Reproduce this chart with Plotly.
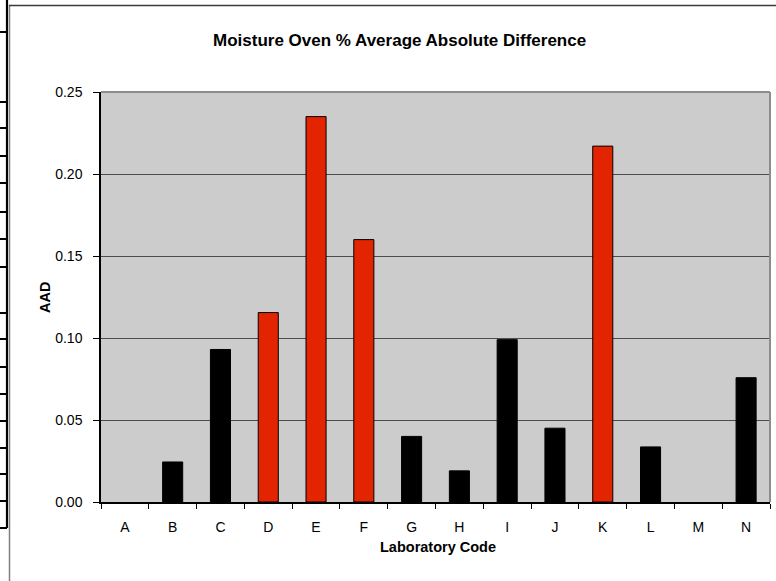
import plotly.graph_objects as go

labs = ["A", "B", "C", "D", "E", "F", "G", "H", "I", "J", "K", "L", "M", "N"]
aad = [0.0, 0.0244, 0.093, 0.1155, 0.235, 0.160, 0.040, 0.019, 0.099, 0.045, 0.217, 0.0336, 0.0, 0.0758]
flagged = [False, False, False, True, True, True, False, False, False, False, True, False, False, False]
y_ticks = [0.0, 0.05, 0.10, 0.15, 0.20, 0.25]
y_ticktext = ["0.00", "0.05", "0.10", "0.15", "0.20", "0.25"]

RED = "#e32400"
colors = [RED if f else "#000000" for f in flagged]
line_w = [1 if v > 0 else 0 for v in aad]

W, H = 776, 581
L, R, T, B = 101, 770, 92, 502

def px(x):
    return (x - L) / (R - L)

def py(y):
    return (B - y) / (B - T)

fig = go.Figure(go.Bar(
    x=labs, y=aad, marker=dict(color=colors, line=dict(color="#000000", width=line_w)),
    width=0.42, hoverinfo="x+y"))

shapes = []
# spreadsheet artifacts at the left edge
shapes.append(dict(type="line", xref="paper", yref="paper", x0=px(7), x1=px(7), y0=py(0), y1=py(528),
                   line=dict(color="#000000", width=2.2)))
for ty in [32, 102, 128, 156, 183, 212, 239, 267, 313, 339, 367, 394, 421, 448, 474, 501, 528]:
    shapes.append(dict(type="line", xref="paper", yref="paper", x0=px(0), x1=px(7), y0=py(ty), y1=py(ty),
                       line=dict(color="#000000", width=2)))
# chart border
shapes.append(dict(type="line", xref="paper", yref="paper", x0=px(9.5), x1=px(9.5), y0=py(5), y1=py(581),
                   line=dict(color="#808080", width=1.5)))
shapes.append(dict(type="line", xref="paper", yref="paper", x0=px(9), x1=px(776), y0=py(5.5), y1=py(5.5),
                   line=dict(color="#3a3a3a", width=1.5)))
# plot area top/right border
shapes.append(dict(type="line", xref="paper", yref="paper", x0=0, x1=1, y0=1, y1=1,
                   line=dict(color="#8c8c8c", width=2)))
shapes.append(dict(type="line", xref="paper", yref="paper", x0=1, x1=1, y0=0, y1=1,
                   line=dict(color="#8c8c8c", width=2)))

fig.update_layout(
    width=W, height=H,
    margin=dict(l=L, r=W - R, t=T, b=H - B),
    paper_bgcolor="#ffffff", plot_bgcolor="#cccccc",
    font=dict(family="Liberation Sans, Arial, sans-serif", size=14, color="#000000"),
    showlegend=False,
    shapes=shapes,
    annotations=[
        dict(text="<b>Moisture Oven % Average Absolute Difference</b>", xref="paper", yref="paper",
             x=px(399), y=py(40), showarrow=False, font=dict(size=17), xanchor="center", yanchor="middle"),
        dict(text="<b>AAD</b>", xref="paper", yref="paper", x=px(45), y=py(298), showarrow=False,
             textangle=-90, font=dict(size=14.5), xanchor="center", yanchor="middle"),
        dict(text="<b>Laboratory Code</b>", xref="paper", yref="paper", x=px(438), y=py(547), showarrow=False,
             font=dict(size=14.5), xanchor="center", yanchor="middle"),
    ],
)
fig.update_xaxes(type="category", tickson="boundaries", ticks="outside", ticklen=5, tickcolor="#000000",
                 showline=True, linecolor="#000000", linewidth=1.5, showgrid=False,
                 ticklabelstandoff=11, tickfont=dict(size=14))
fig.update_yaxes(range=[0, 0.25], tickvals=y_ticks, ticktext=y_ticktext, ticks="outside", ticklen=6,
                 tickcolor="#000000", showline=True, linecolor="#000000", linewidth=1.5,
                 showgrid=True, gridcolor="#4d4d4d", gridwidth=1, zeroline=False,
                 ticklabelstandoff=8, tickfont=dict(size=14))

fig.write_html("out.html", config={"displayModeBar": False},
               post_script="document.body.style.margin='0px';document.body.style.padding='0px';")
